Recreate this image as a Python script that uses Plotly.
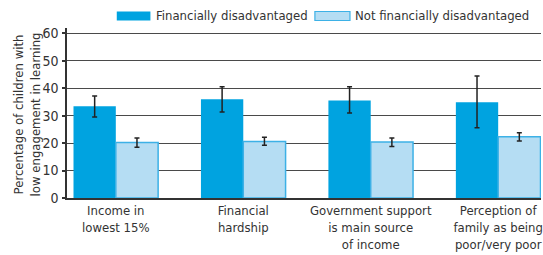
import plotly.graph_objects as go

categories = ["Income in<br>lowest 15%", "Financial<br>hardship",
              "Government support<br>is main source<br>of income",
              "Perception of<br>family as being<br>poor/very poor"]
series_names = ["Financially disadvantaged", "Not financially disadvantaged"]
disadv = [33.5, 36.0, 35.6, 34.9]
disadv_hi = [37.2, 40.6, 40.6, 44.5]
disadv_lo = [29.5, 31.4, 31.0, 25.6]
notdis = [20.2, 20.6, 20.4, 22.3]
notdis_hi = [21.9, 22.2, 21.9, 23.8]
notdis_lo = [18.5, 19.2, 18.8, 20.8]
y_ticks = [0, 10, 20, 30, 40, 50, 60]
y_title = "Percentage of children with<br>low engagement in learning"

FONT = "DejaVu Sans Condensed, Liberation Sans Narrow, sans-serif"
TXT = "#333333"
DARK = "#00A3E0"
LIGHT = "#B5DDF3"
LIGHT_EDGE = "#3DB1E6"

x = list(range(len(categories)))

fig = go.Figure()
fig.add_trace(go.Bar(
    x=x, y=disadv, name=series_names[0],
    marker=dict(color=DARK, line=dict(width=0)),
    error_y=dict(type="data", symmetric=False,
                 array=[h - v for h, v in zip(disadv_hi, disadv)],
                 arrayminus=[v - l for l, v in zip(disadv_lo, disadv)],
                 color="#222222", thickness=1.5, width=2.5),
))
fig.add_trace(go.Bar(
    x=x, y=notdis, name=series_names[1],
    marker=dict(color=LIGHT, line=dict(width=1.5, color=LIGHT_EDGE)),
    error_y=dict(type="data", symmetric=False,
                 array=[h - v for h, v in zip(notdis_hi, notdis)],
                 arrayminus=[v - l for l, v in zip(notdis_lo, notdis)],
                 color="#222222", thickness=1.5, width=2.5),
))

# manual legend (wide swatches)
shapes = [
    dict(type="rect", xref="paper", yref="paper", x0=0.105, x1=0.176, y0=1.044, y1=1.097,
         fillcolor=DARK, line=dict(width=0)),
    dict(type="rect", xref="paper", yref="paper", x0=0.523, x1=0.597, y0=1.044, y1=1.097,
         fillcolor=LIGHT, line=dict(width=1.2, color=LIGHT_EDGE)),
]
annotations = [
    dict(xref="paper", yref="paper", x=0.183, y=1.072, text=series_names[0], showarrow=False,
         xanchor="left", yanchor="middle", font=dict(size=13, color=TXT, family=FONT)),
    dict(xref="paper", yref="paper", x=0.603, y=1.072, text=series_names[1], showarrow=False,
         xanchor="left", yanchor="middle", font=dict(size=13, color=TXT, family=FONT)),
    dict(xref="paper", yref="paper", x=-0.085, y=0.49, text=y_title, showarrow=False,
         textangle=-90, xanchor="center", yanchor="middle",
         font=dict(size=13, color=TXT, family=FONT)),
]

fig.update_layout(
    width=543, height=255,
    margin=dict(l=67, r=0, t=27.5, b=57, pad=0),
    paper_bgcolor="white", plot_bgcolor="white",
    barmode="group", bargap=0.336, bargroupgap=0,
    showlegend=False,
    font=dict(family=FONT, color=TXT, size=13),
    shapes=shapes, annotations=annotations,
)
fig.update_xaxes(
    range=[-0.383, 3.336], tickmode="array", tickvals=x, ticktext=categories,
    showgrid=False, showline=True, linecolor="#333333", linewidth=1.5,
    ticks="", tickfont=dict(size=13, color=TXT, family=FONT), zeroline=False,
    ticklabeloverflow="allow",
)
fig.update_yaxes(
    range=[0, 62], tickmode="array", tickvals=y_ticks,
    ticktext=[str(v) for v in y_ticks],
    showgrid=True, gridcolor="#4a4a4a", gridwidth=1.2,
    showline=True, linecolor="#333333", linewidth=1.5,
    ticks="outside", ticklen=3, tickcolor="#333333", tickwidth=1.5,
    tickfont=dict(size=14, color=TXT, family=FONT), ticklabelstandoff=1,
    zeroline=False,
)

fig.write_html("out.html", config={"displayModeBar": False},
               post_script="document.body.style.margin='0';document.body.style.overflow='hidden';")
